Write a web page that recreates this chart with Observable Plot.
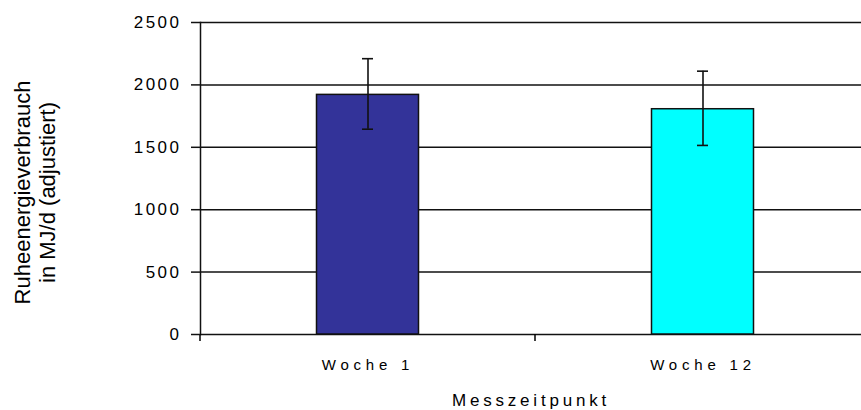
<!DOCTYPE html>
<html>
<head>
<meta charset="utf-8">
<script src="https://cdn.jsdelivr.net/npm/d3@7"></script>
<script src="https://cdn.jsdelivr.net/npm/@observablehq/plot@0.6"></script>
<style>
  body { margin: 0; background: #fff; }
  svg { font-family: "Liberation Sans", Arial, sans-serif; color: #000; }
  g[aria-label="y-axis tick label"], g[aria-label="y-axis tick label"] text { font-size: 17px !important; letter-spacing: 2.5px; }
  g[aria-label="x-axis tick label"], g[aria-label="x-axis tick label"] text { font-size: 15px !important; letter-spacing: 4.8px; }
  g[aria-label="x-axis label"], g[aria-label="x-axis label"] text { font-size: 17px !important; letter-spacing: 3.8px; }
</style>
</head>
<body>
<div id="chart"></div>
<script>
const categories = ["Woche 1", "Woche 12"];
const means = [1920, 1805];
const errLow = [1645, 1515];
const errHigh = [2210, 2110];
const barColors = ["#333399", "#00ffff"];
const yTicks = [0, 500, 1000, 1500, 2000, 2500];
const yLabel = "Ruheenergieverbrauch\nin MJ/d (adjustiert)";
const xLabel = "Messzeitpunkt";

const data = categories.map((c, i) => ({cat: c, value: means[i], lo: errLow[i], hi: errHigh[i]}));

const boundaryTicks = (index, scales, values, dims) => {
  const g = d3.create("svg:g");
  const y0 = scales.y(0);
  for (const c of categories) {
    const x = scales.x(c);
    g.append("line").attr("x1", x).attr("x2", x).attr("y1", y0).attr("y2", y0 + 7)
      .attr("stroke", "#000").attr("stroke-width", 1.5);
  }
  return g.node();
};

const chart = Plot.plot({
  width: 861,
  height: 410,
  marginTop: 22,
  marginBottom: 76,
  marginLeft: 200,
  marginRight: 0,
  x: {type: "band", domain: categories, range: [200, 870], padding: 0},
  y: {domain: [0, 2500]},
  color: {domain: categories, range: barColors},
  marks: [
    Plot.ruleY(yTicks, {stroke: "#111", strokeWidth: 1.5}),
    Plot.barY(data, {x: "cat", y: "value", fill: "cat", stroke: "#111", strokeWidth: 1.5, insetLeft: 116.5, insetRight: 116.5}),
    Plot.ruleX(data, {x: "cat", y1: "lo", y2: "hi", stroke: "#111", strokeWidth: 1.6}),
    Plot.tickY(data, {x: "cat", y: "hi", stroke: "#111", strokeWidth: 1.6, insetLeft: 162, insetRight: 162}),
    Plot.tickY(data, {x: "cat", y: "lo", stroke: "#111", strokeWidth: 1.6, insetLeft: 162, insetRight: 162}),
    Plot.frame({anchor: "left", stroke: "#111", strokeWidth: 1.5}),
    boundaryTicks,
    Plot.axisY({ticks: yTicks, tickFormat: d3.format("d"), tickSize: 9, tickPadding: 10, label: null, stroke: "#111", strokeWidth: 1.5}),
    Plot.axisX({tickSize: 0, tickPadding: 25, label: xLabel, labelAnchor: "center", labelArrow: "none", labelOffset: 71}),
    Plot.text([yLabel], {frameAnchor: "left", dx: -166, dy: 14, rotate: -90, fontSize: 22, lineHeight: 1.15, textAnchor: "middle", lineAnchor: "middle", fill: "#000"})
  ]
});
document.getElementById("chart").appendChild(chart);
</script>
</body>
</html>
